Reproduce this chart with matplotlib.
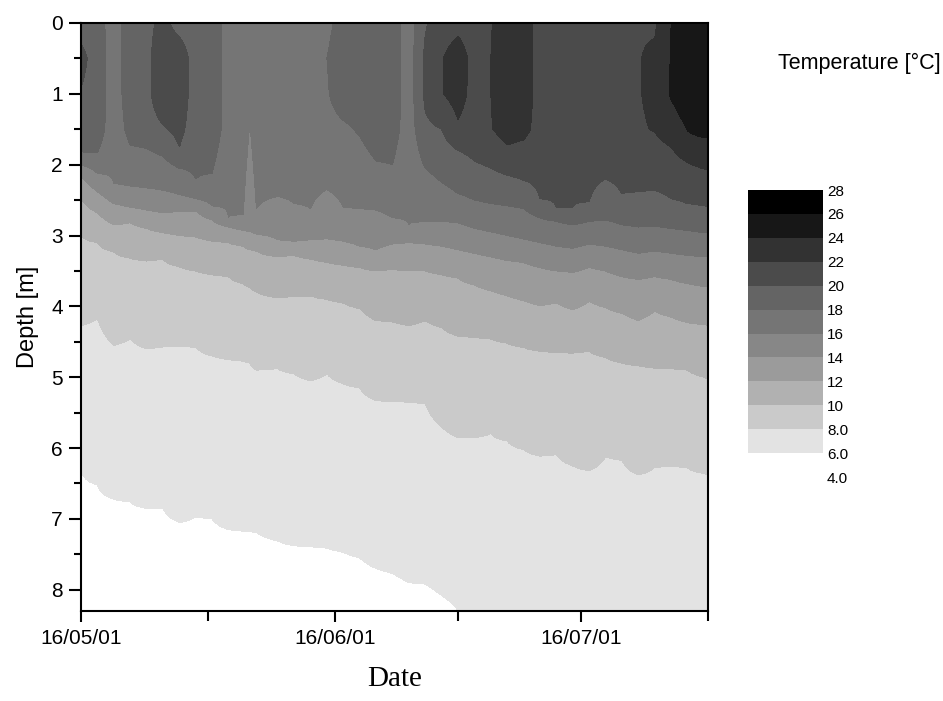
import numpy as np
import matplotlib.pyplot as plt
from matplotlib.ticker import MultipleLocator

plt.rcParams['font.family'] = ['Liberation Sans', 'DejaVu Sans']

nan = np.nan

# sample dates, days after 16/05/01
days = [0, 2, 4, 6, 8, 10, 12, 14, 16, 18, 19.8, 20.6, 21.4, 24, 26, 28, 30, 32, 34, 36,
        38, 40, 42, 44, 46, 48, 50, 52, 54, 56, 58, 60, 62, 64, 66, 68, 70, 72, 74, 76, 77]

# temperature [°C] in the top layer at 0, 0.5, 1.0 and 1.5 m
t00 = [19.3, 19.0, 16.8, 19.3, 19.4, 20.6, 19.2, 19.0, 19.0, 17.2, 17.2, 17.0, 17.2, 17.3, 17.4, 17.4, 17.5, 18.8, 19.2, 19.3,
       19.0, 17.0, 19.8, 21.0, 21.4, 21.0, 21.9, 23.0, 22.8, 21.3, 21.3, 21.3, 21.4, 21.5, 21.6, 21.8, 21.7, 24.0, 25.0, 25.2, 25.2]
t05 = [20.5, 19.2, 16.8, 19.3, 19.5, 21.3, 21.2, 19.0, 19.0, 17.2, 17.2, 17.0, 17.2, 17.3, 17.4, 17.4, 18.0, 19.2, 19.3, 19.3,
       19.0, 17.0, 20.4, 21.9, 23.0, 21.3, 22.0, 23.0, 22.9, 21.3, 21.3, 21.3, 21.4, 21.5, 21.6, 21.9, 22.4, 24.1, 25.2, 25.4, 25.4]
t10 = [19.9, 19.2, 16.8, 19.2, 19.5, 21.3, 21.2, 19.0, 19.0, 17.2, 17.2, 16.8, 17.2, 17.3, 17.4, 17.4, 17.8, 19.2, 19.3, 19.3,
       19.0, 17.0, 20.4, 21.9, 22.8, 21.3, 22.0, 23.0, 22.9, 21.3, 21.3, 21.3, 21.4, 21.5, 21.6, 21.9, 22.4, 24.2, 25.2, 25.4, 25.4]
t15 = [19.2, 19.0, 16.8, 18.6, 19.2, 19.8, 20.5, 19.0, 19.0, 17.2, 17.2, 15.9, 17.2, 17.3, 17.4, 17.4, 17.2, 17.6, 18.6, 19.0,
       18.8, 17.0, 19.6, 20.1, 21.7, 21.0, 21.9, 22.8, 22.5, 21.3, 21.3, 21.3, 21.4, 21.5, 21.5, 21.8, 22.1, 23.0, 24.6, 25.0, 25.0]

# depth [m] of the deepest crossing of each isotherm (nan = not crossed below the top layer)
z24 = [nan] * 38 + [1.52, 1.62, 1.61]
z22 = [nan] * 27 + [1.72, 1.65] + [nan] * 8 + [1.75, 1.97, 2.06, 2.08]
z20 = [nan, nan, nan, nan, nan, nan, 1.75, nan, nan, nan, nan, nan, nan, nan, nan, nan, nan, nan, nan, nan,
       nan, nan, nan, 1.5, 1.8, 1.95, 2.05, 2.15, 2.22, 2.48, 2.6, 2.6, 2.52, 2.2, 2.41, 2.38, 2.36, 2.48, 2.55, 2.58, 2.6]
z18 = [1.82, 1.83, nan, 1.72, 1.77, 1.88, 2.05, 2.2, 2.12, nan, nan, nan, nan, nan, nan, nan, nan, nan, 1.6, 1.95,
       2.0, nan, 2.05, 2.25, 2.41, 2.5, 2.55, 2.58, 2.62, 2.75, 2.8, 2.85, 2.8, 2.78, 2.85, 2.88, 2.87, 2.9, 2.93, 2.96, 2.97]
z16 = [2.0, 2.12, 2.27, 2.3, 2.33, 2.36, 2.42, 2.48, 2.58, 2.74, 2.7, nan, 2.62, 2.45, 2.55, 2.62, 2.35, 2.6, 2.62, 2.64,
       2.75, 2.85, 2.8, 2.8, 2.82, 2.9, 2.95, 3.0, 3.05, 3.1, 3.15, 3.18, 3.12, 3.15, 3.2, 3.25, 3.22, 3.25, 3.28, 3.3, 3.3]
z14 = [2.17, 2.38, 2.55, 2.6, 2.64, 2.68, 2.66, 2.65, 2.78, 2.88, 2.93, 2.95, 2.98, 3.06, 3.08, 3.06, 3.05, 3.08, 3.15, 3.2,
       3.12, 3.1, 3.12, 3.15, 3.2, 3.25, 3.3, 3.35, 3.38, 3.45, 3.5, 3.52, 3.45, 3.5, 3.58, 3.62, 3.58, 3.62, 3.68, 3.72, 3.73]
z12 = [2.48, 2.68, 2.85, 2.82, 2.9, 2.96, 3.0, 3.02, 3.08, 3.1, 3.15, 3.2, 3.22, 3.3, 3.28, 3.33, 3.38, 3.42, 3.45, 3.5,
       3.48, 3.5, 3.5, 3.55, 3.6, 3.7, 3.78, 3.85, 3.92, 3.99, 3.95, 4.05, 3.93, 4.02, 4.1, 4.2, 4.07, 4.15, 4.23, 4.26, 4.27]
z10 = [3.0, 3.1, 3.23, 3.32, 3.36, 3.33, 3.44, 3.5, 3.55, 3.58, 3.68, 3.73, 3.8, 3.88, 3.86, 3.85, 3.9, 3.95, 4.03, 4.2,
       4.22, 4.27, 4.2, 4.3, 4.42, 4.44, 4.46, 4.52, 4.58, 4.63, 4.65, 4.66, 4.63, 4.72, 4.8, 4.84, 4.87, 4.88, 4.9, 5.0, 5.05]
z8 = [4.27, 4.17, 4.55, 4.46, 4.6, 4.57, 4.56, 4.58, 4.7, 4.75, 4.77, 4.8, 4.9, 4.88, 4.95, 5.05, 4.95, 5.09, 5.15, 5.33,
      5.34, 5.35, 5.37, 5.7, 5.85, 5.85, 5.79, 5.9, 6.02, 6.11, 6.09, 6.25, 6.32, 6.12, 6.17, 6.38, 6.27, 6.25, 6.28, 6.36, 6.39]
z6 = [6.32, 6.52, 6.72, 6.76, 6.85, 6.85, 7.05, 6.97, 7.0, 7.15, 7.17, 7.18, 7.19, 7.31, 7.38, 7.39, 7.41, 7.47, 7.55, 7.7,
      7.77, 7.9, 7.92, 8.08, 8.29] + [nan] * 16

levels = [4, 6, 8, 10, 12, 14, 16, 18, 20, 22, 24, 26, 28]
level_labels = ['4.0', '6.0', '8.0', '10', '12', '14', '16', '18', '20', '22', '24', '26', '28']
band_colors = ['#ffffff', '#e3e3e3', '#cacaca', '#b1b1b1', '#9b9b9b', '#878787', '#757575',
               '#646464', '#4b4b4b', '#323232', '#171717', '#000000']

top_depths = [0.0, 0.5, 1.0, 1.5]
top_temps = [t00, t05, t10, t15]
isotherms = {24: z24, 22: z22, 20: z20, 18: z18, 16: z16, 14: z14, 12: z12, 10: z10, 8: z8, 6: z6}

# build the depth profiles the contour routine needs
depth = np.linspace(0, 8.6, 431)
temp = np.empty((len(depth), len(days)))
for i in range(len(days)):
    knots = [(z[i], lev) for lev, z in isotherms.items() if not np.isnan(z[i])]
    zmin = min(k[0] for k in knots)
    knots += [(d, t[i]) for d, t in zip(top_depths, top_temps) if d < zmin - 0.1]
    knots.append((8.6, 5.4 if not np.isnan(z6[i]) else 6.6))
    knots.sort()
    zs, ts = zip(*knots)
    temp[:, i] = np.interp(depth, zs, ts)

fig = plt.figure(figsize=(9.43, 7.01), dpi=100)
ax = fig.add_axes([0.0859, 0.1284, 0.6649, 0.8388])
cf = ax.contourf(days, depth, temp, levels=levels, colors=band_colors)

ax.set_xlim(0, 76.5)
ax.set_ylim(8.3, 0)
ax.set_xticks([0, 31, 61])
ax.set_xticklabels(['16/05/01', '16/06/01', '16/07/01'])
ax.set_xticks([15.5, 46, 76.5], minor=True)
ax.set_yticks(range(9))
ax.yaxis.set_minor_locator(MultipleLocator(0.5))
ax.tick_params(direction='out', width=1.5, labelsize=15)
ax.tick_params(axis='x', which='major', length=8, pad=5)
ax.tick_params(axis='x', which='minor', length=7, width=1.5)
ax.tick_params(axis='y', which='major', length=9, pad=4)
ax.tick_params(axis='y', which='minor', length=5, width=1.5)
for s in ax.spines.values():
    s.set_linewidth(1.5)

ax.set_ylabel('Depth [m]', fontsize=17, labelpad=9)
ax.set_xlabel('Date', fontsize=21, family=['Liberation Serif', 'DejaVu Serif'], labelpad=13)

cax = fig.add_axes([0.793, 0.3195, 0.0795, 0.4094])
cb = fig.colorbar(cf, cax=cax, ticks=levels)
cb.outline.set_visible(False)
cb.ax.set_yticklabels(level_labels)
cb.ax.tick_params(length=0, labelsize=11, pad=3)

fig.text(0.825, 0.909, 'Temperature [°C]', fontsize=15.5, ha='left', va='center')

fig.savefig('out.png', dpi=100)
